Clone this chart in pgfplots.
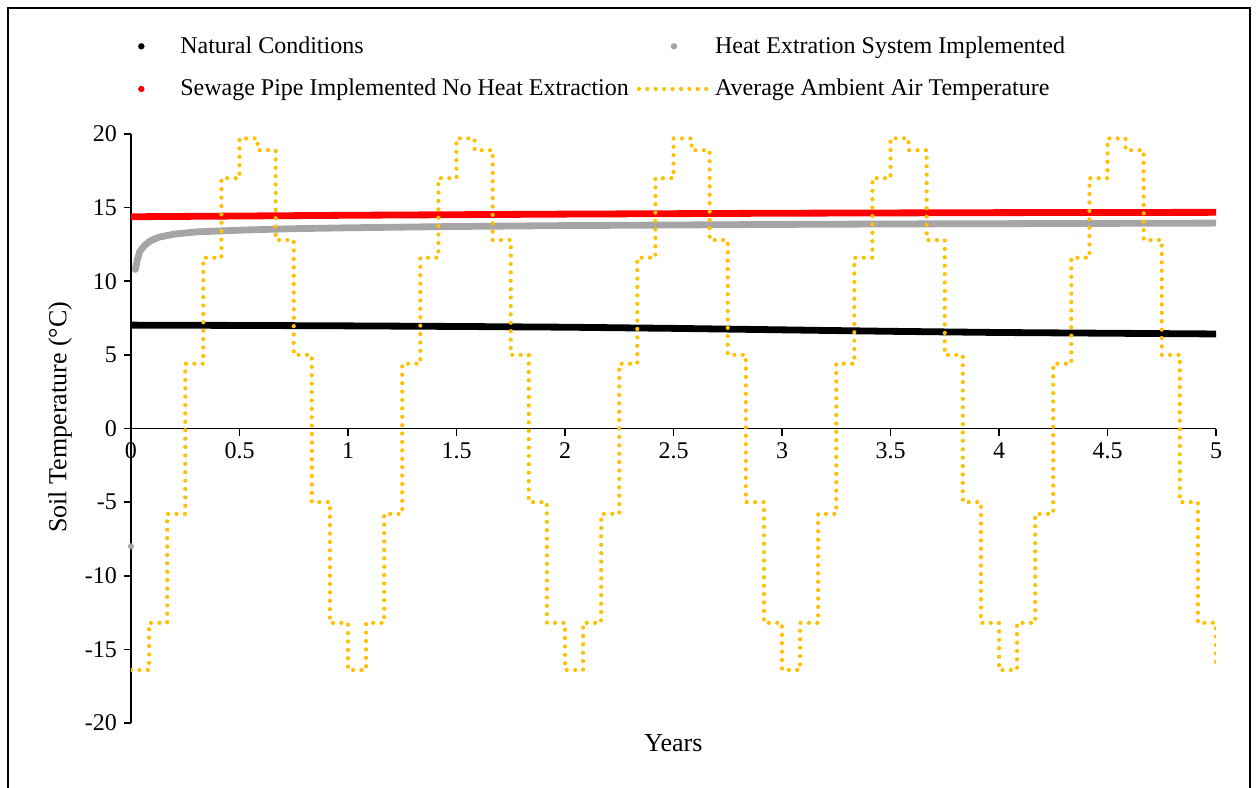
\documentclass[border=0pt]{standalone}
\usepackage{pgfplots}
\pgfplotsset{compat=1.18}
\usepackage{fontspec}
\setmainfont{Liberation Serif}
\definecolor{ambient}{HTML}{FFC000}
\definecolor{heatgray}{HTML}{A5A5A5}
\definecolor{sewred}{HTML}{FF0000}
\begin{document}
\begin{tikzpicture}
\useasboundingbox (0pt,0pt) rectangle (628.5pt,393.5pt);
\draw[line width=1pt] (4pt,-2pt) -- (4pt,389.5pt) -- (625pt,389.5pt) -- (625pt,-2pt);
\begin{axis}[
  at={(65.5pt,32pt)}, anchor=south west,
  scale only axis, width=542.5pt, height=294.5pt,
  xmin=0, xmax=5, ymin=-20, ymax=20,
  axis x line=middle, axis y line=left,
  axis line style={-, line width=0.8pt},
  hide obscured x ticks=false, hide obscured y ticks=false,
  xtick={0,0.5,1,1.5,2,2.5,3,3.5,4,4.5,5},
  ytick={-20,-15,-10,-5,0,5,10,15,20},
  tick align=outside, xtick align=outside, major tick length=3.5pt,
  tick style={line width=0.8pt, black},
  font=\fontsize{12}{14}\selectfont,
  /pgf/number format/assume math mode=true,
  tick label style={font=\fontsize{12}{14}\selectfont},
  xlabel={Years}, ylabel={Soil Temperature (°C)},
  every axis x label/.style={at={(axis description cs:0.5,0)}, anchor=north, yshift=-2pt, font=\fontsize{13}{15}\selectfont},
  every axis y label/.style={at={(axis description cs:-0.0654,0.519)}, rotate=90, anchor=center, font=\fontsize{13}{15}\selectfont},
  legend columns=2,
  legend cell align=left,
  legend style={at={(axis description cs:-0.0231,1.173)}, anchor=north west, draw=none, fill=none,
    inner sep=0pt, font=\fontsize{12}{14}\selectfont, row sep=7.5pt,
    /tikz/every even column/.append style={column sep=2pt}},
]
\addplot[black, line width=3.4pt, line cap=round,
  legend image code/.code={\path[draw=none] (0pt,0pt) -- (35pt,0pt); \fill[black, draw=none] (17.5pt,0pt) circle (1.6pt);}]
  coordinates {(0,7.02) (0.5,7.00) (1,6.97) (1.5,6.93) (2,6.88) (2.5,6.80) (3,6.70) (3.5,6.60) (4,6.52) (4.5,6.47) (5,6.42)};
\addlegendentry{Natural Conditions}
\addplot[heatgray, line width=3.4pt, line cap=round,
  legend image code/.code={\path[draw=none] (0pt,0pt) -- (35pt,0pt); \fill[heatgray, draw=none] (17.5pt,0pt) circle (1.6pt);}]
  coordinates {(0.02,10.8) (0.03,11.5) (0.04,12.0) (0.06,12.4) (0.09,12.75) (0.13,13.0) (0.2,13.2) (0.3,13.35) (0.5,13.47) (0.75,13.57) (1,13.63) (1.5,13.72) (2,13.78) (2.5,13.82) (3,13.86) (3.5,13.89) (4,13.91) (4.5,13.93) (5,13.95)};
\addlegendentry{Heat Extration System Implemented}
\addplot[sewred, line width=3.4pt, line cap=round,
  legend image code/.code={\path[draw=none] (0pt,0pt) -- (35pt,0pt); \fill[sewred, draw=none] (17.5pt,0pt) circle (1.6pt);}]
  coordinates {(0,14.38) (0.5,14.43) (1,14.48) (1.5,14.52) (2,14.56) (2.5,14.59) (3,14.62) (3.5,14.64) (4,14.66) (4.5,14.67) (5,14.68)};
\addlegendentry{Sewage Pipe Implemented No Heat Extraction}
\addplot[heatgray, only marks, mark=*, mark size=1.3pt, forget plot] coordinates {(0,-8)};
\addplot[ambient, const plot, line width=2.1pt, line cap=round, dash pattern=on 0pt off 4.2pt,
  legend image code/.code={\draw[ambient, line width=2.1pt, line cap=round, dash pattern=on 0pt off 4.2pt] (0pt,0pt) -- (35pt,0pt);}]
  coordinates {
  (0,-16.4) (0.0833,-13.2) (0.1667,-5.8) (0.25,4.4) (0.3333,11.6) (0.4167,17.0) (0.5,19.7) (0.5833,18.9) (0.6667,12.8) (0.75,5.0) (0.8333,-5.0) (0.9167,-13.2)
  (1,-16.4) (1.0833,-13.2) (1.1667,-5.8) (1.25,4.4) (1.3333,11.6) (1.4167,17.0) (1.5,19.7) (1.5833,18.9) (1.6667,12.8) (1.75,5.0) (1.8333,-5.0) (1.9167,-13.2)
  (2,-16.4) (2.0833,-13.2) (2.1667,-5.8) (2.25,4.4) (2.3333,11.6) (2.4167,17.0) (2.5,19.7) (2.5833,18.9) (2.6667,12.8) (2.75,5.0) (2.8333,-5.0) (2.9167,-13.2)
  (3,-16.4) (3.0833,-13.2) (3.1667,-5.8) (3.25,4.4) (3.3333,11.6) (3.4167,17.0) (3.5,19.7) (3.5833,18.9) (3.6667,12.8) (3.75,5.0) (3.8333,-5.0) (3.9167,-13.2)
  (4,-16.4) (4.0833,-13.2) (4.1667,-5.8) (4.25,4.4) (4.3333,11.6) (4.4167,17.0) (4.5,19.7) (4.5833,18.9) (4.6667,12.8) (4.75,5.0) (4.8333,-5.0) (4.9167,-13.2)
  (5,-16.4)};
\addlegendentry{Average Ambient Air Temperature}
\end{axis}
\end{tikzpicture}
\end{document}
